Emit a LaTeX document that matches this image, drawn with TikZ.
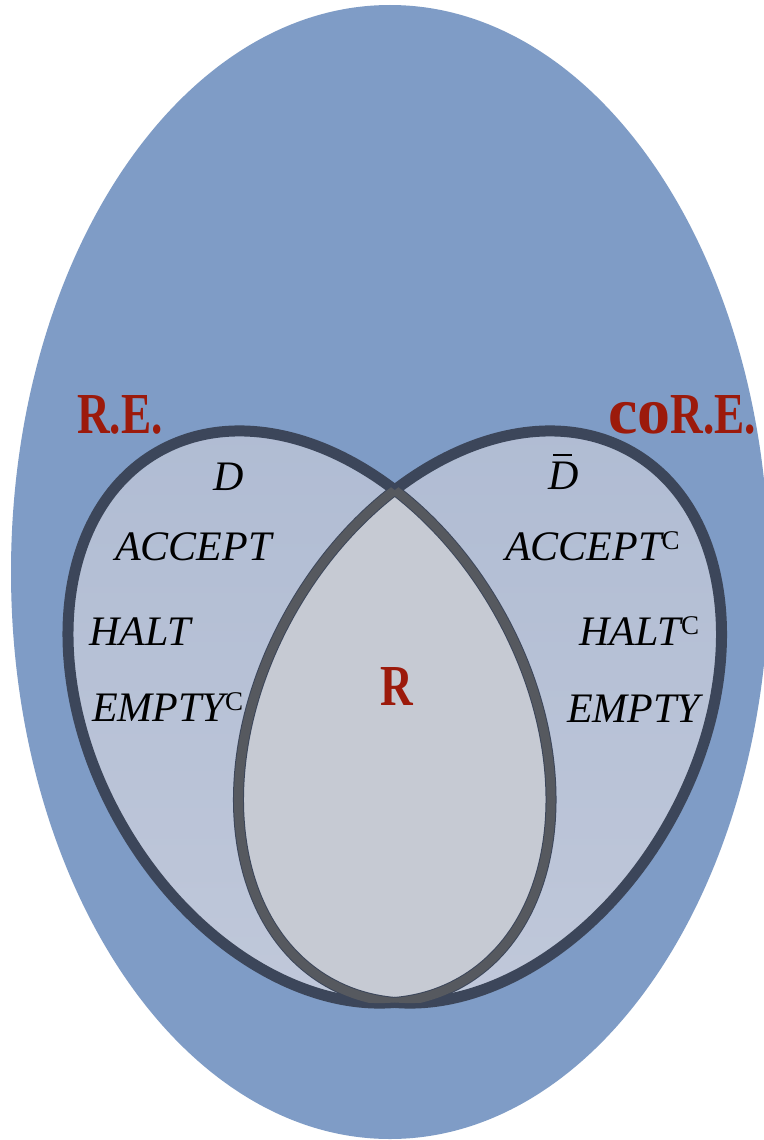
\documentclass[tikz,border=0pt]{standalone}
\usepackage{fontspec}
\setmainfont{Liberation Serif}
\newfontfamily\headfont[FakeStretch=0.78]{Liberation Serif}
\newfontfamily\cofont{Liberation Serif}
\definecolor{bluebg}{HTML}{7F9CC6}
\definecolor{settop}{HTML}{B0BCD3}
\definecolor{setbottom}{HTML}{C0C8DA}
\definecolor{corefill}{HTML}{C6CAD3}
\definecolor{rimdark}{HTML}{3C465A}
\definecolor{rimgray}{HTML}{56595F}
\definecolor{headred}{HTML}{9C1A0B}
\newcommand\supC{\raisebox{11pt}{\upshape\fontsize{27}{27}\selectfont C}}
\newcommand\barD{\rlap{\hspace{5pt}\rule[33pt]{19pt}{1.6pt}}D}
\begin{document}
\begin{tikzpicture}[x=1pt,y=-1pt,
  leftset/.style={shift={(309.5,717)},rotate=-60.2},
  rightset/.style={shift={(480,717)},rotate=60.2},
  setshape/.style={x radius=305.4pt, y radius=216.5pt},
  head/.style={font=\headfont\bfseries\fontsize{58}{58}\selectfont, text=headred, inner sep=0pt},
  member/.style={font=\itshape\fontsize{42}{42}\selectfont, inner sep=0pt, anchor=base west},
  darkrim/.style={draw=rimdark, line width=11pt},
  grayrim/.style={draw=rimgray, line width=9pt}]
\useasboundingbox[fill=white] (0,0) rectangle (763,1140);

% universe of all languages
\fill[bluebg] (390,572) ellipse [x radius=379pt, y radius=567pt];

% the two classes, shaded from top to bottom
\begin{scope}
  \clip[leftset] (0,0) ellipse [setshape];
  \shade[top color=settop, bottom color=setbottom] (0,420) rectangle (600,1010);
\end{scope}
\begin{scope}
  \clip[rightset] (0,0) ellipse [setshape];
  \shade[top color=settop, bottom color=setbottom] (200,420) rectangle (763,1010);
\end{scope}

% intersection: the decidable languages
\begin{scope}
  \clip[leftset] (0,0) ellipse [setshape];
  \fill[corefill, rightset] (0,0) ellipse [setshape];
\end{scope}

% outlines
\path[darkrim, leftset] (0,0) ellipse [setshape];
\path[darkrim, rightset] (0,0) ellipse [setshape];
\begin{scope}
  \clip[leftset] (0,0) ellipse [setshape];
  \path[grayrim, rightset] (0,0) ellipse [setshape];
\end{scope}
\begin{scope}
  \clip[rightset] (0,0) ellipse [setshape];
  \path[grayrim, leftset] (0,0) ellipse [setshape];
\end{scope}

% class names
\node[head, anchor=base west] (re) at (77,433) {R.E.};
\node[head, anchor=base west] (core) at (608,433) {{\cofont\bfseries\fontsize{66}{66}\selectfont co}R.E.};
\node[head, anchor=base] (rec) at (397,705) {R};

% members of R.E.
\node[member] (d) at (213,490) {D};
\node[member] (accept) at (115,560) {ACCEPT};
\node[member] (halt) at (89,645) {HALT};
\node[member] (emptyc) at (92,721) {EMPTY\supC};

% members of coR.E.
\node[member] (dbar) at (548,489) {\barD};
\node[member] (acceptc) at (505,560) {ACCEPT\supC};
\node[member] (haltc) at (579,645) {HALT\supC};
\node[member] (empty) at (567,722) {EMPTY};
\end{tikzpicture}
\end{document}
